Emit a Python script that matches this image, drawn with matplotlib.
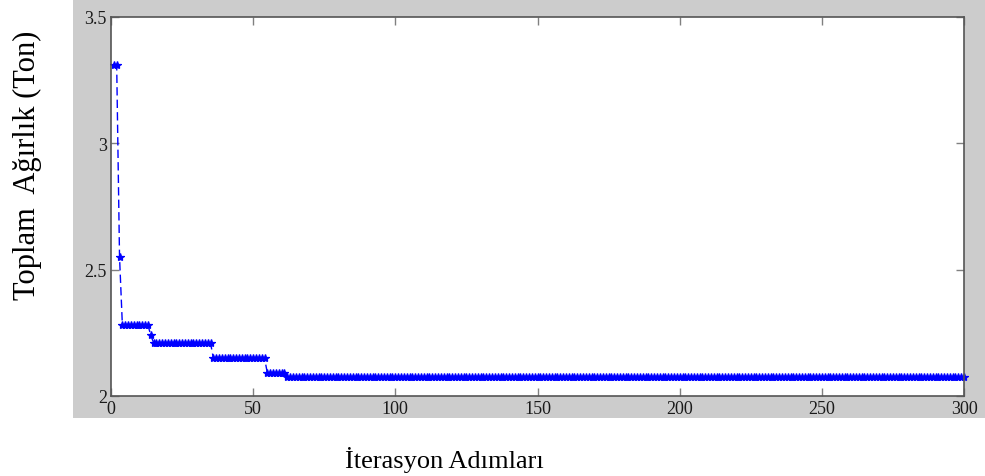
import numpy as np
import matplotlib
matplotlib.use('Agg')
import matplotlib.pyplot as plt
from matplotlib.patches import Rectangle

# weight level reached at each stage of the optimisation and how many iterations it lasted
levels = [3.31, 2.55, 2.28, 2.24, 2.21, 2.15, 2.09, 2.075]
run_lengths = [2, 1, 10, 1, 21, 19, 7, 239]

x_ticks = [0, 50, 100, 150, 200, 250, 300]
y_ticks = [2, 2.5, 3, 3.5]
y_tick_labels = ['2', '2.5', '3', '3.5']


def buildSeries(levels, run_lengths):
    weights = np.repeat(levels, run_lengths)
    steps = np.arange(1, len(weights) + 1)
    return steps, weights


def plotWeights(steps, weights):
    fig = plt.figure(figsize=(9.85, 4.77), dpi=100)
    fig.patch.set_facecolor('white')
    # grey matlab-style frame behind the axes
    fig.patches.append(Rectangle((73 / 985, 1 - 419 / 477), 1 - 73 / 985, 419 / 477,
                                 transform=fig.transFigure, facecolor='#cccccc',
                                 edgecolor='none', zorder=-5))
    ax = fig.add_axes([111 / 985, 1 - 397 / 477, 853 / 985, 379 / 477])
    ax.set_zorder(2)
    ax.set_facecolor('white')
    ax.plot(steps, weights, linestyle=(0, (6, 3)), color='blue', linewidth=1.0,
            marker='*', markersize=6, markeredgewidth=0.9, clip_on=False)
    ax.set_xlim(0, 300)
    ax.set_ylim(2, 3.5)
    ax.set_xticks(x_ticks)
    ax.set_yticks(y_ticks)
    ax.set_yticklabels(y_tick_labels)
    ax.tick_params(direction='in', length=6, width=1, color='#808080',
                   top=True, right=True, labelsize=13, labelcolor='#1a1a1a', pad=3)
    for lbl in ax.get_xticklabels() + ax.get_yticklabels():
        lbl.set_family('Liberation Serif')
    for sp in ax.spines.values():
        sp.set_color('#555555')
        sp.set_linewidth(1.2)
    fig.text(27 / 985, 1 - 165 / 477, 'Toplam  Ağırlık (Ton)', rotation=90,
             ha='center', va='center', fontsize=22, family='Liberation Serif')
    fig.text(444 / 985, 1 - 460 / 477, 'İterasyon Adımları',
             ha='center', va='center', fontsize=19, family='Liberation Serif')
    fig.savefig('out.png', dpi=100)


if __name__ == '__main__':
    s, w = buildSeries(levels, run_lengths)
    plotWeights(s, w)
